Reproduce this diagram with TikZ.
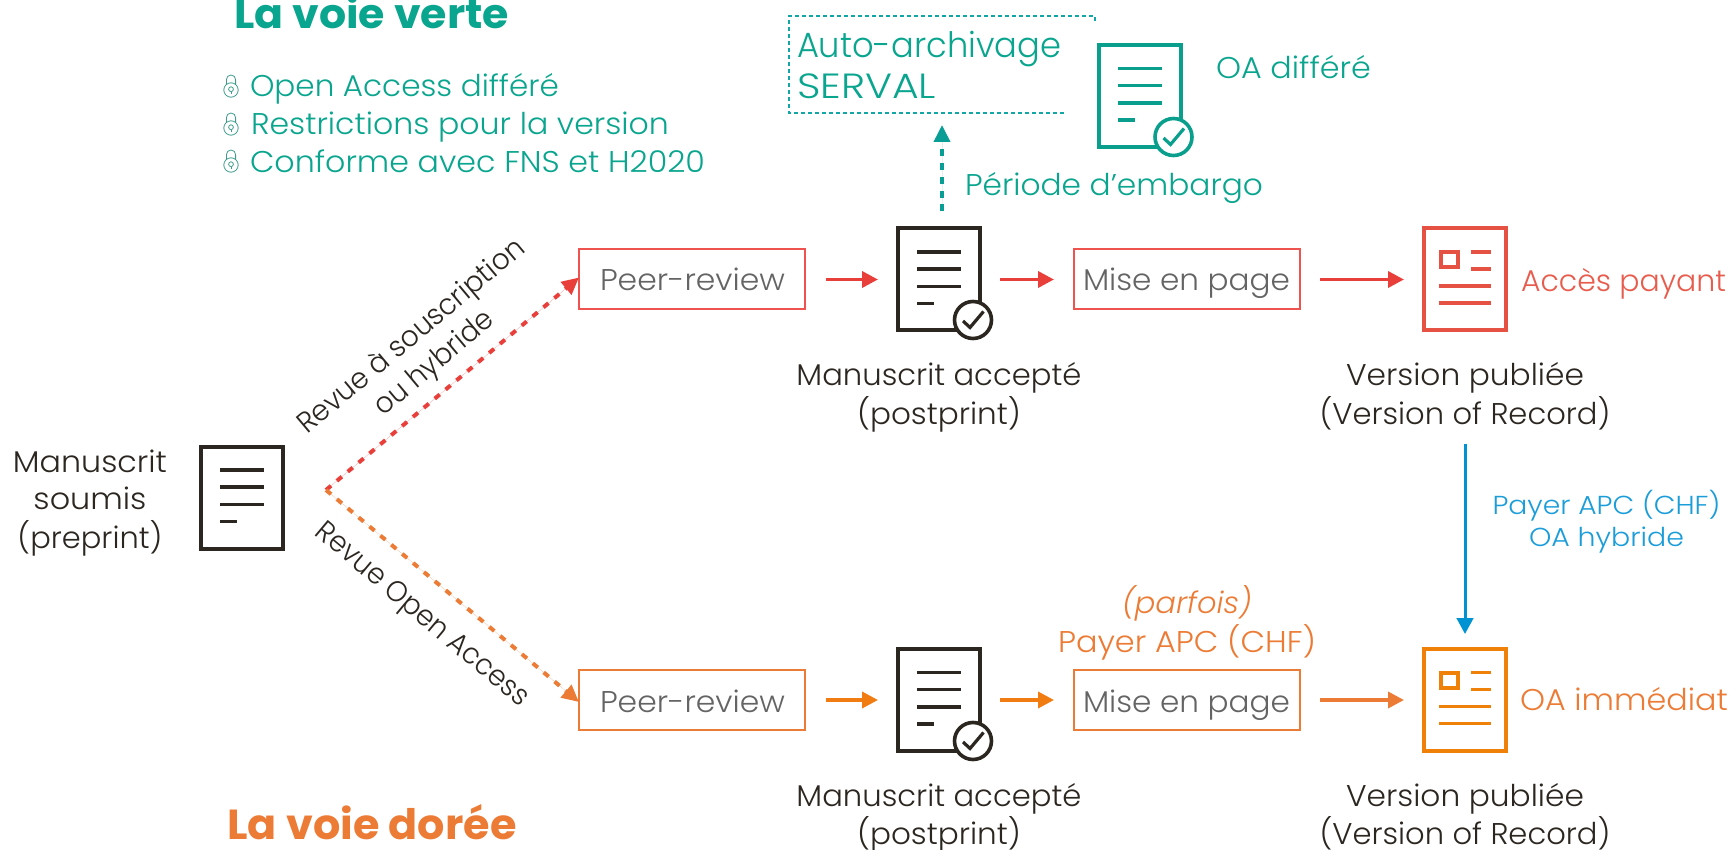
\documentclass[tikz,border=0pt]{standalone}
\usepackage{fontspec}
\usepackage{graphicx}
\setmainfont{Poppins}[UprightFont=* Light,BoldFont=* Bold,ItalicFont=* Light Italic]
\usetikzlibrary{arrows.meta}
\definecolor{cgreen}{HTML}{0AA58E}
\definecolor{cgreendoc}{HTML}{0A9F8C}
\definecolor{cgarrow}{HTML}{089E95}
\definecolor{cdot}{HTML}{12A6A6}
\definecolor{clock}{HTML}{3F9C8D}
\definecolor{cred}{HTML}{E93F3A}
\definecolor{cboxred}{HTML}{EE5350}
\definecolor{credtxt}{HTML}{E85C4D}
\definecolor{cpubred}{HTML}{E55142}
\definecolor{corg}{HTML}{EC7B35}
\definecolor{corgb}{HTML}{F07C12}
\definecolor{cpuborg}{HTML}{EF8008}
\definecolor{cblack}{HTML}{2B2620}
\definecolor{cgray}{HTML}{646464}
\definecolor{cblue}{HTML}{0093D3}
\definecolor{cbluetxt}{HTML}{1B9DD9}
\newcommand{\fw}[2]{\kern-1pt\resizebox{\dimexpr#1pt+2pt\relax}{\height}{#2}\kern-1pt}
\newcommand{\lblsize}[2]{\fontsize{#1}{#2}\selectfont}
\tikzset{
  lbl/.style={inner sep=0pt,outer sep=0pt,text=cblack,font=\lblsize{30}{36}},
  stepbox/.style={draw,line width=2pt,minimum width=226pt,minimum height=60pt,inner sep=0pt,outer sep=0pt},
  boxtxt/.style={inner sep=0pt,outer sep=0pt,text=cgray,font=\lblsize{30}{37}},
  docframe/.style={line width=4pt,minimum width=82pt,minimum height=102pt,inner sep=0pt,outer sep=0pt,fill=white},
  docline/.style={line width=3.8pt},
  badge/.style={circle,line width=3.6pt,minimum size=37pt,inner sep=0pt,outer sep=0pt,fill=white},
  arr/.style={line width=3.6pt,-{Triangle[length=16pt,width=16pt]}},
  darr/.style={line width=4pt,dash pattern=on 6.5pt off 7.7pt,-{Triangle[length=17pt,width=16pt]}}
}
% manuscript icon: name, left, top, colour
\newcommand{\manu}[4]{%
  \begin{scope}[shift={(#2,#3)}]
    \node[docframe,draw=#4] (#1) at (43,53) {};
    \foreach \yy in {25.5,42.5,60} \draw[docline,draw=#4] (21,\yy) -- (65,\yy);
    \draw[docline,draw=#4] (21,77) -- (38,77);
  \end{scope}}
% badge with check: name, centre x, centre y, colour
\newcommand{\chk}[4]{%
  \node[badge,draw=#4] (#1) at (#2,#3) {};
  \draw[line width=3.2pt,draw=#4] (#2-10,#3+1) -- (#2-3,#3+7.5) -- (#2+10.5,#3-8.5);}
% published icon: name, left, top, colour
\newcommand{\pub}[4]{%
  \begin{scope}[shift={(#2,#3)}]
    \node[docframe,draw=#4] (#1) at (42,53) {};
    \draw[line width=4pt,draw=#4] (18,26) rectangle (35,41);
    \foreach \yy in {25.5,42.5} \draw[docline,draw=#4] (48,\yy) -- (68,\yy);
    \foreach \yy in {59.5,76.5} \draw[docline,draw=#4] (16,\yy) -- (68,\yy);
  \end{scope}}
% lock icon: centre x of body, centre y of body
\newcommand{\lock}[2]{%
  \begin{scope}[shift={(#1,#2)},line width=0.8pt,draw=clock]
    \draw (0,0) circle (7.2);
    \draw (-4.6,-5.5) -- (-4.6,-10.4) arc (180:360:4.6) -- (4.6,-5.5);
    \draw (0,-0.8) circle (2.4);
    \draw (0,1.6) -- (0,4);
  \end{scope}}
\begin{document}
\begin{tikzpicture}[x=1pt,y=-1pt]
\useasboundingbox (0,0) rectangle (1733,850);

% titles
\node[lbl,anchor=base west,text=cgreen,font=\lblsize{41}{41}\bfseries] (t1) at (235,28.5) {\fw{273}{La voie verte}};
\node[lbl,anchor=base west,text=corg,font=\lblsize{42}{42}\bfseries] (t2) at (228.5,839) {\fw{287}{La voie dorée}};

% green bullet list
\lock{231}{90}\lock{231}{128}\lock{231}{165}
\node[lbl,anchor=base west,text=cgreen] (g1) at (251,97) {\fw{307}{Open Access différé}};
\node[lbl,anchor=base west,text=cgreen] (g2) at (252,134.5) {\fw{416}{Restrictions pour la version}};
\node[lbl,anchor=base west,text=cgreen] (g3) at (251,172.5) {\fw{453}{Conforme avec FNS et H2020}};

% archive box
\draw[line width=1.6pt,draw=cdot,dash pattern=on 4pt off 3pt] (1064,113) -- (789,113) -- (789,16) -- (1095,16) -- (1095,23);
\node[lbl,anchor=base west,text=cgreen,font=\lblsize{35}{41}] (arch) at (798,57.5) {\begin{tabular}[t]{@{}l@{}}\fw{262}{Auto-archivage}\\\fw{137}{SERVAL}\end{tabular}};
\manu{gdoc}{1097}{43}{cgreendoc}
\chk{gchk}{1173.5}{137}{cgreendoc}
\node[lbl,anchor=base west,text=cgreen] (oad) at (1217,79) {\fw{153}{OA différé}};
\node[lbl,anchor=base west,text=cgreen] (emb) at (966,195.5) {\fw{296}{Période d’embargo}};

% left manuscript
\node[lbl,anchor=base,font=\lblsize{30}{37}] (ms) at (90,472) {\begin{tabular}[t]{@{}c@{}}\fw{152}{Manuscrit}\\\fw{111}{soumis}\\\fw{143}{(preprint)}\end{tabular}};
\manu{m0}{199}{444.5}{cblack}
\coordinate (fork) at (326,490);

% top row
\node[stepbox,draw=cboxred] (pr1) at (692,279.5) {};
\node[boxtxt,anchor=base west] at (601,291) {\fw{183}{Peer-review}};
\manu{acc1}{896}{226.5}{cblack}
\chk{c1}{973}{320}{cblack}
\node[stepbox,draw=cboxred] (mp1) at (1187,279.5) {};
\node[boxtxt,anchor=base west] at (1084,291) {\fw{205}{Mise en page}};
\pub{pub1}{1423}{226.5}{cpubred}
\node[lbl,anchor=base west,text=credtxt] (pay) at (1522,291.5) {\fw{203}{Accès payant}};
\node[lbl,anchor=base] (l1) at (939,386) {\begin{tabular}[t]{@{}c@{}}\fw{283}{Manuscrit accepté}\\\fw{162}{(postprint)}\end{tabular}};
\node[lbl,anchor=base] (l2) at (1465,386) {\begin{tabular}[t]{@{}c@{}}\fw{236}{Version publiée}\\\fw{289}{(Version of Record)}\end{tabular}};

% bottom row
\node[stepbox,draw=corg] (pr2) at (692,700) {};
\node[boxtxt,anchor=base west] at (601,712) {\fw{183}{Peer-review}};
\manu{acc2}{896}{647}{cblack}
\chk{c2}{973}{741}{cblack}
\node[stepbox,draw=corg] (mp2) at (1187,700) {};
\node[boxtxt,anchor=base west] at (1084,712) {\fw{205}{Mise en page}};
\pub{pub2}{1423}{647}{cpuborg}
\node[lbl,anchor=base west,text=corg] (oai) at (1521,710.5) {\fw{206}{OA immédiat}};
\node[lbl,anchor=base] (l3) at (939,806) {\begin{tabular}[t]{@{}c@{}}\fw{283}{Manuscrit accepté}\\\fw{162}{(postprint)}\end{tabular}};
\node[lbl,anchor=base] (l4) at (1465,806) {\begin{tabular}[t]{@{}c@{}}\fw{236}{Version publiée}\\\fw{289}{(Version of Record)}\end{tabular}};
\node[lbl,anchor=base,text=corg,font=\lblsize{30}{36}] (apc) at (1187,613.5) {\begin{tabular}[t]{@{}c@{}}\fw{128}{\itshape (parfois)}\\\fw{256}{Payer APC (CHF)}\end{tabular}};
\node[lbl,anchor=base,text=cbluetxt,font=\lblsize{26}{32}] (hyb) at (1606.5,514.5) {\begin{tabular}[t]{@{}c@{}}\fw{226}{Payer APC (CHF)}\\\fw{153}{OA hybride}\end{tabular}};

% rotated labels
\node[lbl,anchor=base,rotate=40,font=\lblsize{29}{35}] (rs) at (417,343) {\begin{tabular}[t]{@{}c@{}}\fw{284}{Revue à souscription}\\\fw{144}{ou hybride}\end{tabular}};
\node[lbl,rotate=-40,font=\lblsize{29}{35}] (ro) at (421,616) {\fw{267}{Revue Open Access}};

% connectors
\draw[darr,draw=cred,fill=cred] (fork) -- ([yshift=2pt]pr1.west);
\draw[darr,draw=corg,fill=corg] (fork) -- ([yshift=-2pt]pr2.west);
\draw[arr,draw=cred,fill=cred] ([xshift=21pt]pr1.east) -- ([xshift=-20pt]acc1.west);
\draw[arr,draw=cred,fill=cred] ([xshift=20pt]acc1.east) -- ([xshift=-20pt]mp1.west);
\draw[arr,draw=cred,fill=cred] ([xshift=20pt]mp1.east) -- ([xshift=-20pt]pub1.west);
\draw[arr,draw=corgb,fill=corgb] ([xshift=21pt]pr2.east) -- ([xshift=-20pt]acc2.west);
\draw[arr,draw=corgb,fill=corgb] ([xshift=20pt]acc2.east) -- ([xshift=-20pt]mp2.west);
\draw[arr,draw=corg,fill=corg] ([xshift=20pt]mp2.east) -- ([xshift=-20pt]pub2.west);
\coordinate (archtip) at (942,125);
\draw[line width=3.7pt,draw=cgarrow,fill=cgarrow,dash pattern=on 7pt off 6.8pt,-{Triangle[length=17pt,width=16pt]}] ([xshift=3pt,yshift=17pt]acc1.north) -- (archtip);
\draw[line width=3pt,draw=cblue,fill=cblue,-{Triangle[length=16pt,width=16.5pt]}] ([yshift=-113pt]pub1.south) -- ([yshift=15pt]pub2.north);
\end{tikzpicture}
\end{document}
